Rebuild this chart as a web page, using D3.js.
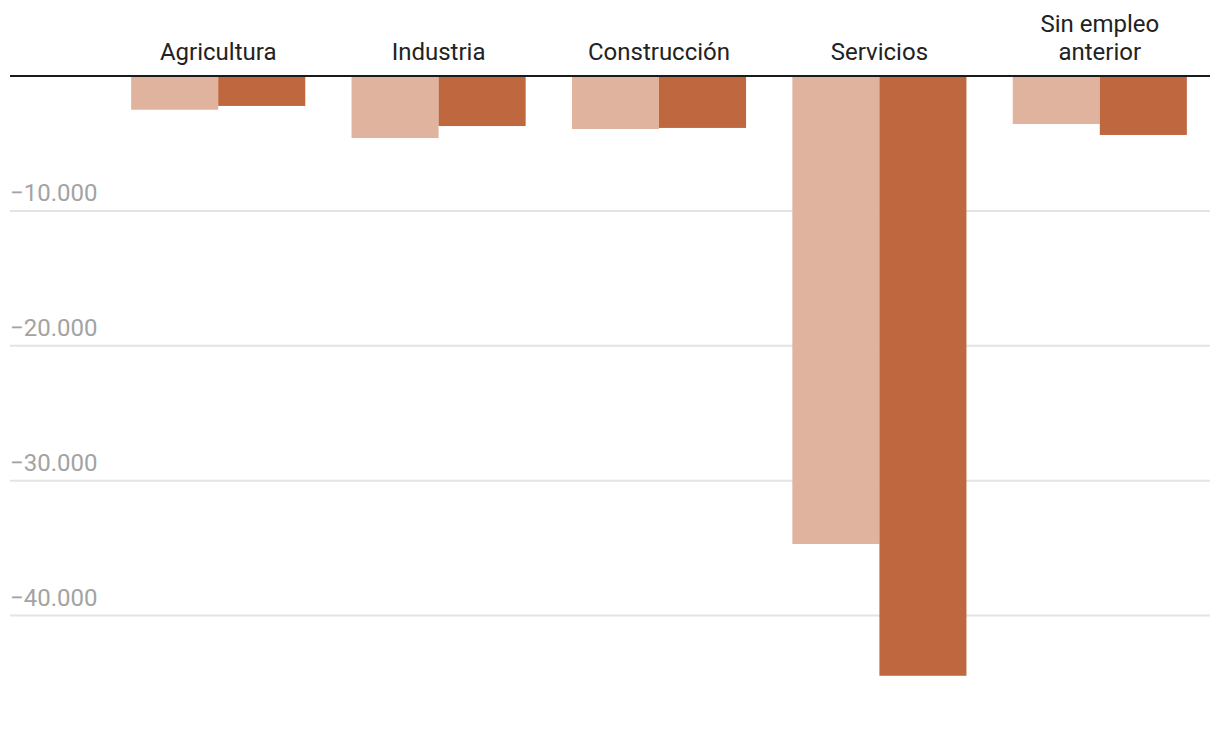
<!DOCTYPE html>
<html>
<head>
<meta charset="utf-8">
<script src="https://cdn.jsdelivr.net/npm/d3@7"></script>
<style>
  html, body { margin: 0; padding: 0; background: #fff; }
  svg { display: block; font-family: Roboto, "Noto Sans", sans-serif; }
</style>
</head>
<body>
<svg id="chart" width="1220" height="730"></svg>
<script>
const categories = ["Agricultura", "Industria", "Construcción", "Servicios", "Sin empleo anterior"];
const seriesA = [-2500, -4600, -3930, -34690, -3560];
const seriesB = [-2220, -3710, -3850, -44460, -4370];
const tickValues = [-10000, -20000, -30000, -40000];
const seriesKeys = ["a", "b"];
const seriesColors = ["#e0b39e", "#bf683f"];

const locale = d3.formatLocale({decimal: ",", thousands: ".", grouping: [3], currency: ["", " €"], minus: "\u2212"});
const fmt = locale.format(",d");

const svg = d3.select("#chart");
const left = 10, right = 1210;

const x = d3.scaleBand().domain(categories).range([108, 1210]).paddingInner(0.21).paddingOuter(0.105);
const xs = d3.scaleBand().domain(seriesKeys).range([0, x.bandwidth()]);
const y = d3.scaleLinear().domain([0, -40000]).range([76, 615.6]);

// gridlines
const grid = svg.append("g");
grid.selectAll("line").data(tickValues).join("line")
  .attr("x1", left).attr("x2", right)
  .attr("y1", d => y(d)).attr("y2", d => y(d))
  .attr("stroke", "#e4e4e4").attr("stroke-width", 2);
grid.selectAll("text").data(tickValues).join("text")
  .attr("x", left).attr("y", d => y(d) - 10)
  .attr("fill", "#a3a3a3").attr("font-size", 24)
  .text(d => fmt(d));

// bars
const data = categories.map((c, i) => ({cat: c, values: [
  {key: "a", v: seriesA[i], color: seriesColors[0]},
  {key: "b", v: seriesB[i], color: seriesColors[1]}
]}));
const groups = svg.append("g").selectAll("g").data(data).join("g")
  .attr("transform", d => `translate(${x(d.cat)},0)`);
groups.selectAll("rect").data(d => d.values).join("rect")
  .attr("x", d => xs(d.key))
  .attr("width", xs.bandwidth())
  .attr("y", y(0))
  .attr("height", d => y(d.v) - y(0))
  .attr("fill", d => d.color);

// zero line
svg.append("line")
  .attr("x1", left).attr("x2", right)
  .attr("y1", y(0)).attr("y2", y(0))
  .attr("stroke", "#1a1a1a").attr("stroke-width", 2);

// category labels
const labelLines = {"Sin empleo anterior": ["Sin empleo", "anterior"]};
const labels = svg.append("g").selectAll("text").data(categories).join("text")
  .attr("x", d => x(d) + x.bandwidth() / 2)
  .attr("text-anchor", "middle")
  .attr("fill", "#222").attr("font-size", 24);
labels.each(function(d) {
  const lines = labelLines[d] || [d];
  const t = d3.select(this);
  lines.forEach((ln, i) => {
    t.append("tspan").attr("x", x(d) + x.bandwidth() / 2)
      .attr("y", 60 - (lines.length - 1 - i) * 28)
      .text(ln);
  });
});
</script>
</body>
</html>
